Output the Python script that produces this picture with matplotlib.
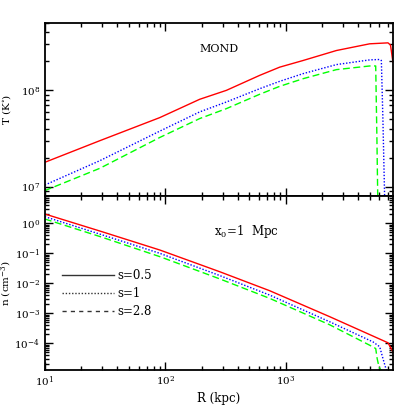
import matplotlib
matplotlib.use("Agg")
import matplotlib.pyplot as plt
from matplotlib.lines import Line2D
from matplotlib.ticker import LogLocator, NullFormatter

plt.rcParams['font.family'] = ['DejaVu Serif']
plt.rcParams['mathtext.fontset'] = 'dejavuserif'

# ---------------- data ----------------
# Temperature panel
R_T_s05 = [10, 28.6, 90, 193, 322, 608, 891, 1393, 2636, 4977, 7063, 7413, 7762]
T_s05 = [1.79e7, 3.0e7, 5.21e7, 8.07e7, 1.0e8, 1.43e8, 1.74e8, 2.04e8, 2.59e8,
         3.04e8, 3.11e8, 2.95e8, 1.96e8]

R_T_s1 = [10, 28.6, 90, 193, 322, 608, 891, 1393, 2636, 4977, 6026, 6223, 6412, 6637]
T_s1 = [1.04e7, 1.86e7, 3.77e7, 5.97e7, 7.57e7, 1.04e8, 1.24e8, 1.49e8, 1.85e8,
        2.07e8, 2.09e8, 2.04e8, 4.9e7, 7.0e6]

R_T_s28 = [10, 28.6, 90, 193, 322, 608, 891, 1393, 2636, 4977, 5585, 5715, 5821]
T_s28 = [9.1e6, 1.55e7, 3.24e7, 5.09e7, 6.46e7, 9.1e7, 1.10e8, 1.32e8, 1.64e8,
         1.79e8, 1.79e8, 3.2e7, 6.3e6]

# Density panel
R_n_s05 = [10, 28.6, 90, 283, 736, 2317, 7063, 7762]
n_s05 = [2.04, 0.553, 0.129, 0.0244, 5.68e-3, 7.76e-4, 1.05e-4, 5.25e-5]

R_n_s1 = [10, 28.6, 90, 283, 736, 2317, 5309, 6026, 6412, 6855]
n_s1 = [1.66, 0.437, 0.1, 0.0182, 4.07e-3, 5.25e-4, 1.12e-4, 7.76e-5, 3.16e-5, 1.26e-5]

R_n_s28 = [10, 28.6, 90, 283, 736, 2317, 4977, 5585, 5741, 5943, 6310]
n_s28 = [1.39, 0.363, 0.0776, 0.0141, 3.16e-3, 4.17e-4, 8.71e-5, 6.76e-5, 3.16e-5,
         1.66e-5, 1.12e-5]

legend_labels = ['s=0.5', 's=1', 's=2.8']
xlim = (10, 7750)
ylim_T = (8e6, 5e8)
ylim_n = (1.3e-5, 8.1)

# ---------------- figure ----------------
fig = plt.figure(figsize=(4.15, 4.15), dpi=100)
ax1 = fig.add_axes([0.108, 0.5277, 0.8386, 0.4169])
ax2 = fig.add_axes([0.108, 0.1084, 0.8386, 0.4193])

red, blue, green = '#ff0000', '#0000ff', '#00ff00'
dotted = (0, (1, 1.3))
dashed = (0, (5, 2.5))

ax1.plot(R_T_s05, T_s05, color=red, lw=1.0, ls='-')
ax1.plot(R_T_s1, T_s1, color=blue, lw=1.0, ls=dotted)
ax1.plot(R_T_s28, T_s28, color=green, lw=1.0, ls=dashed)

ax2.plot(R_n_s05, n_s05, color=red, lw=1.0, ls='-')
ax2.plot(R_n_s1, n_s1, color=blue, lw=1.0, ls=dotted)
ax2.plot(R_n_s28, n_s28, color=green, lw=1.0, ls=dashed)

for ax in (ax1, ax2):
    ax.set_xscale('log')
    ax.set_yscale('log')
    ax.set_xlim(*xlim)
    ax.tick_params(which='both', direction='in', top=True, right=True,
                   width=1.0, labelsize=7.5, pad=3.5)
    ax.tick_params(which='major', length=6)
    ax.tick_params(which='minor', length=3)
    ax.xaxis.set_major_locator(LogLocator(base=10))
    ax.xaxis.set_minor_locator(LogLocator(base=10, subs=range(2, 10)))
    ax.yaxis.set_major_locator(LogLocator(base=10))
    ax.yaxis.set_minor_locator(LogLocator(base=10, subs=range(2, 10)))
    ax.yaxis.set_minor_formatter(NullFormatter())
    ax.xaxis.set_minor_formatter(NullFormatter())
    for sp in ax.spines.values():
        sp.set_linewidth(1.3)

ax1.set_ylim(*ylim_T)
ax2.set_ylim(*ylim_n)
ax1.tick_params(labelbottom=False)

ax1.set_ylabel(r'T (K$^{\circ}$)', fontsize=7.5)
ax2.set_ylabel(r'n (cm$^{-3}$)', fontsize=7.5)
ax2.set_xlabel('R (kpc)', fontsize=8.5)
ax1.yaxis.set_label_coords(-0.09, 0.5)
ax2.yaxis.set_label_coords(-0.09, 0.5)
ax2.xaxis.set_label_coords(0.5, -0.125)

ax1.text(0.5, 0.85, 'MOND', transform=ax1.transAxes, ha='center', va='center',
         fontsize=8)
ax2.text(0.58, 0.795, r'x$_0$=1  Mpc', transform=ax2.transAxes, ha='center',
         va='center', fontsize=8.5)

handles = [Line2D([], [], color='#333333', lw=1.0, ls='-'),
           Line2D([], [], color='#333333', lw=1.0, ls=dotted),
           Line2D([], [], color='#333333', lw=1.0, ls=(0, (3, 3)))]
ax2.legend(handles, legend_labels, loc='upper left', bbox_to_anchor=(0.035, 0.605),
           frameon=False, fontsize=8.5, handlelength=4.4, handletextpad=0.3,
           labelspacing=0.42, borderaxespad=0)

fig.savefig('out.png', dpi=100)
